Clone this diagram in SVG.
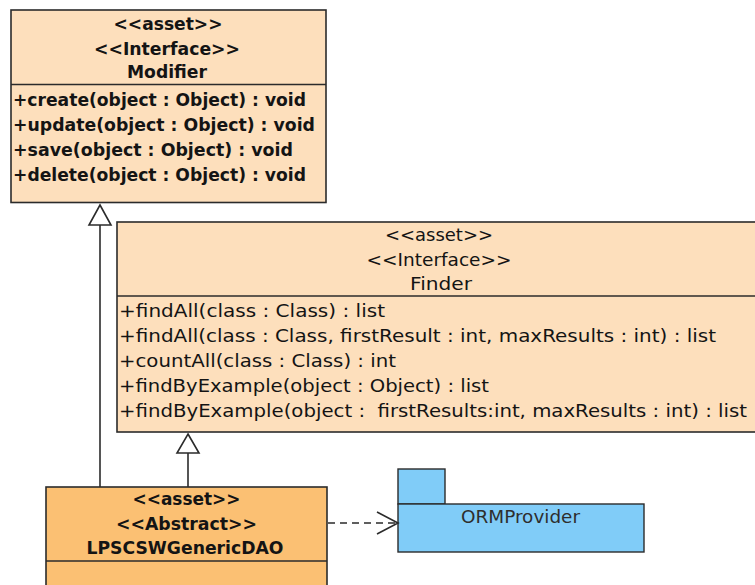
<svg xmlns="http://www.w3.org/2000/svg" width="755" height="585" viewBox="0 0 755 585">
  <style>
    .box { fill: #FDDFBC; stroke: #2b2b2b; stroke-width: 1.6; }
    .abs { fill: #FBC073; stroke: #2b2b2b; stroke-width: 1.6; }
    .pkg { fill: #80CCF8; stroke: #2b2b2b; stroke-width: 1.4; }
    .sep { stroke: #2b2b2b; stroke-width: 1.6; }
    .t { font-family: "DejaVu Sans", "Liberation Sans", sans-serif; font-size: 17px; fill: #141414; }
    .b { font-weight: bold; }
    .c { text-anchor: middle; }
    .edge { fill: none; stroke: #2b2b2b; stroke-width: 1.6; }
    .head { fill: #ffffff; stroke: #2b2b2b; stroke-width: 1.6; stroke-linejoin: miter; }
  </style>

  <!-- Modifier interface -->
  <g id="modifier">
    <rect class="box" x="11" y="10" width="315" height="192.5"/>
    <line class="sep" x1="11" y1="84.5" x2="326" y2="84.5"/>
    <text class="t b c" x="168" y="30" textLength="109" lengthAdjust="spacingAndGlyphs">&lt;&lt;asset&gt;&gt;</text>
    <text class="t b c" x="167" y="55" textLength="146" lengthAdjust="spacingAndGlyphs">&lt;&lt;Interface&gt;&gt;</text>
    <text class="t b c" x="167" y="78" textLength="80" lengthAdjust="spacingAndGlyphs">Modifier</text>
    <text class="t b" x="13" y="106" textLength="293" lengthAdjust="spacingAndGlyphs">+create(object : Object) : void</text>
    <text class="t b" x="13" y="131" textLength="302" lengthAdjust="spacingAndGlyphs">+update(object : Object) : void</text>
    <text class="t b" x="13" y="156" textLength="280" lengthAdjust="spacingAndGlyphs">+save(object : Object) : void</text>
    <text class="t b" x="13" y="181" textLength="293" lengthAdjust="spacingAndGlyphs">+delete(object : Object) : void</text>
  </g>

  <!-- Finder interface -->
  <g id="finder">
    <rect class="box" x="117" y="222" width="645" height="210"/>
    <line class="sep" x1="117" y1="296" x2="762" y2="296"/>
    <text class="t c" x="439" y="241" textLength="108" lengthAdjust="spacingAndGlyphs">&lt;&lt;asset&gt;&gt;</text>
    <text class="t c" x="439" y="266" textLength="145" lengthAdjust="spacingAndGlyphs">&lt;&lt;Interface&gt;&gt;</text>
    <text class="t c" x="441" y="290" textLength="62" lengthAdjust="spacingAndGlyphs">Finder</text>
    <text class="t" x="119" y="317" textLength="266" lengthAdjust="spacingAndGlyphs">+findAll(class : Class) : list</text>
    <text class="t" x="119" y="342" textLength="597" lengthAdjust="spacingAndGlyphs">+findAll(class : Class, firstResult : int, maxResults : int) : list</text>
    <text class="t" x="119" y="367" textLength="277" lengthAdjust="spacingAndGlyphs">+countAll(class : Class) : int</text>
    <text class="t" x="119" y="392" textLength="370" lengthAdjust="spacingAndGlyphs">+findByExample(object : Object) : list</text>
    <text class="t" x="119" y="417" textLength="628" lengthAdjust="spacingAndGlyphs" style="white-space:pre">+findByExample(object :  firstResults:int, maxResults : int) : list</text>
  </g>

  <!-- Abstract DAO class -->
  <g id="lpscswgenericdao">
    <rect class="abs" x="46" y="487" width="281" height="110"/>
    <line class="sep" x1="46" y1="561" x2="327" y2="561"/>
    <text class="t b c" x="186.5" y="505" textLength="108" lengthAdjust="spacingAndGlyphs">&lt;&lt;asset&gt;&gt;</text>
    <text class="t b c" x="186.5" y="530" textLength="141" lengthAdjust="spacingAndGlyphs">&lt;&lt;Abstract&gt;&gt;</text>
    <text class="t b c" x="185" y="554" textLength="197" lengthAdjust="spacingAndGlyphs">LPSCSWGenericDAO</text>
  </g>

  <!-- ORMProvider package -->
  <g id="ormprovider">
    <rect class="pkg" x="398" y="469" width="47" height="35"/>
    <rect class="pkg" x="398" y="504" width="246" height="48"/>
    <text class="t c" x="520.5" y="523" textLength="119" lengthAdjust="spacingAndGlyphs" style="fill:#2e2e2e">ORMProvider</text>
  </g>

  <!-- Connectors -->
  <g id="connectors">
    <!-- realisation of Modifier -->
    <line class="edge" x1="100" y1="225" x2="100" y2="487"/>
    <polygon class="head" points="100,205 111,225 89,225"/>
    <!-- realisation of Finder -->
    <line class="edge" x1="188" y1="453" x2="188" y2="487"/>
    <polygon class="head" points="188,434 199,453 177,453"/>
    <!-- dependency on ORMProvider -->
    <line class="edge" x1="328" y1="523" x2="397" y2="523" stroke-dasharray="7,5"/>
    <polyline class="edge" points="377,512 398,523 377,534"/>
  </g>
</svg>
